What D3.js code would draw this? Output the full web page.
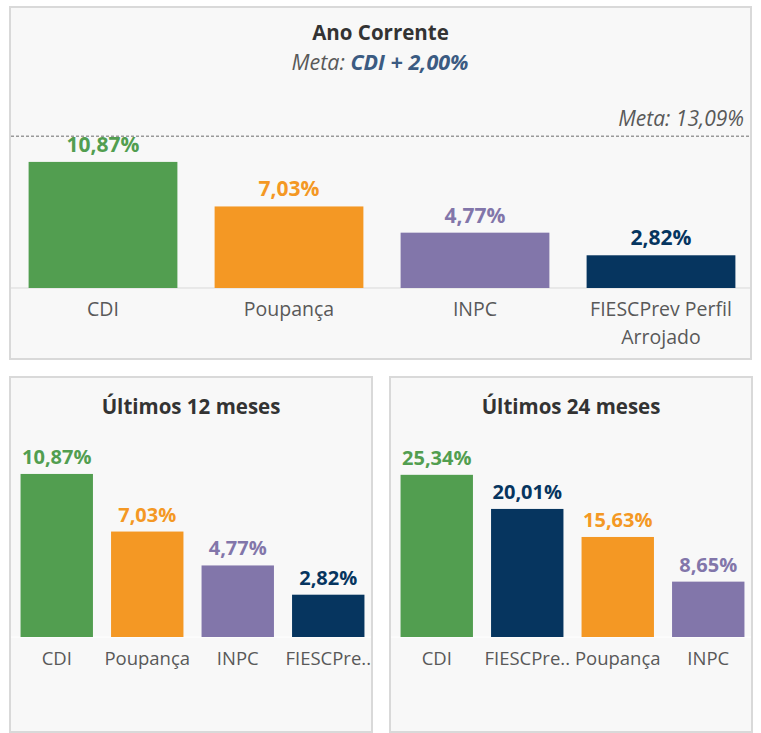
<!DOCTYPE html>
<html>
<head>
<meta charset="utf-8">
<script src="https://cdn.jsdelivr.net/npm/d3@7"></script>
<style>
  body { margin: 0; background: #fff; }
  text { font-family: "Open Sans", "Noto Sans", sans-serif; }
</style>
</head>
<body>
<div id="chart"></div>
<script>
// data
const anoCats = ["CDI", "Poupança", "INPC", "FIESCPrev Perfil Arrojado"];
const anoVals = [10.87, 7.03, 4.77, 2.82];
const anoMeta = 13.09;

const m12Cats = ["CDI", "Poupança", "INPC", "FIESCPrev Perfil Arrojado"];
const m12Vals = [10.87, 7.03, 4.77, 2.82];

const m24Cats = ["CDI", "FIESCPrev Perfil Arrojado", "Poupança", "INPC"];
const m24Vals = [25.34, 20.01, 15.63, 8.65];

const colors = {
  "CDI": "#529e50",
  "Poupança": "#f49824",
  "INPC": "#8276aa",
  "FIESCPrev Perfil Arrojado": "#06355f"
};

const width = 761, height = 733;
const fmt = v => v.toFixed(2).replace(".", ",") + "%";

const svg = d3.select("#chart")
  .append("svg")
  .attr("width", width)
  .attr("height", height);

function drawPanel(p) {
  const g = svg.append("g");
  g.append("rect")
    .attr("x", p.box[0]).attr("y", p.box[1])
    .attr("width", p.box[2]).attr("height", p.box[3])
    .attr("fill", "#f8f8f8")
    .attr("stroke", "#d9d9d9")
    .attr("stroke-width", 2);

  g.append("text")
    .attr("x", p.box[0] + p.box[2] / 2)
    .attr("y", p.titleY)
    .attr("text-anchor", "middle")
    .attr("font-size", 20.5)
    .attr("font-weight", "bold")
    .attr("fill", "#333")
    .text(p.title);

  let x = d3.scaleBand()
    .domain(p.cats)
    .range(p.xRange)
    .paddingInner(0.2)
    .paddingOuter(0.1);

  let y = d3.scaleLinear()
    .domain([0, p.yMax])
    .range([p.base, p.top]);

  // baseline
  g.append("line")
    .attr("x1", p.box[0] + 1).attr("x2", p.box[0] + p.box[2] - 1)
    .attr("y1", p.base).attr("y2", p.base)
    .attr("stroke", p.baseColor)
    .attr("stroke-width", 1);

  g.selectAll(".bar")
    .data(p.vals)
    .join("rect")
    .attr("x", (d, i) => x(p.cats[i]))
    .attr("width", x.bandwidth())
    .attr("y", d => y(d))
    .attr("height", d => y(0) - y(d))
    .attr("fill", (d, i) => colors[p.cats[i]]);

  g.selectAll(".val")
    .data(p.vals)
    .join("text")
    .attr("x", (d, i) => x(p.cats[i]) + x.bandwidth() / 2)
    .attr("y", d => y(d) - 10)
    .attr("text-anchor", "middle")
    .attr("font-size", p.valSize)
    .attr("font-weight", "bold")
    .attr("fill", (d, i) => colors[p.cats[i]])
    .text(fmt);

  // category labels
  p.cats.forEach((c, i) => {
    const lines = p.labels[i];
    lines.forEach((ln, j) => {
      g.append("text")
        .attr("x", x(c) + x.bandwidth() / 2)
        .attr("y", p.base + 28 + j * 28)
        .attr("text-anchor", "middle")
        .attr("font-size", p.catSize)
        .attr("fill", "#595959")
        .text(ln);
    });
  });
  return { g, x, y };
}

const topPanel = drawPanel({
  box: [10, 7, 741, 352],
  title: "Ano Corrente",
  titleY: 40,
  cats: anoCats,
  vals: anoVals,
  labels: [["CDI"], ["Poupança"], ["INPC"], ["FIESCPrev Perfil", "Arrojado"]],
  xRange: [10, 754],
  base: 288,
  top: 288 - 11.6 * 14,
  yMax: 14,
  baseColor: "#d9d9d9",
  valSize: 21,
  catSize: 19.5
});

// subtitle
const sub = topPanel.g.append("text")
  .attr("x", 380)
  .attr("y", 70)
  .attr("text-anchor", "middle")
  .attr("font-size", 21.5)
  .attr("font-style", "italic");
sub.append("tspan").attr("fill", "#595959").text("Meta: ");
sub.append("tspan").attr("fill", "#3b5b82").attr("font-weight", "bold").text("CDI + 2,00%");

// meta line
topPanel.g.append("line")
  .attr("x1", 11).attr("x2", 750)
  .attr("y1", topPanel.y(anoMeta)).attr("y2", topPanel.y(anoMeta))
  .attr("stroke", "#9a9a9a")
  .attr("stroke-width", 1.5)
  .attr("stroke-dasharray", "3,2");

topPanel.g.append("text")
  .attr("x", 744)
  .attr("y", topPanel.y(anoMeta) - 10)
  .attr("text-anchor", "end")
  .attr("font-size", 21)
  .attr("font-style", "italic")
  .attr("fill", "#595959")
  .text("Meta: " + fmt(anoMeta));

drawPanel({
  box: [10, 377, 362, 355],
  title: "Últimos 12 meses",
  titleY: 414,
  cats: m12Cats,
  vals: m12Vals,
  labels: [["CDI"], ["Poupança"], ["INPC"], ["FIESCPre.."]],
  xRange: [11.5, 373.5],
  base: 637,
  top: 637 - 15 * 11,
  yMax: 11,
  baseColor: "#ffffff",
  valSize: 20,
  catSize: 18.5
});

drawPanel({
  box: [390, 377, 362, 355],
  title: "Últimos 24 meses",
  titleY: 414,
  cats: m24Cats,
  vals: m24Vals,
  labels: [["CDI"], ["FIESCPre.."], ["Poupança"], ["INPC"]],
  xRange: [391.5, 753.5],
  base: 637,
  top: 637 - 6.4 * 26,
  yMax: 26,
  baseColor: "#ffffff",
  valSize: 20,
  catSize: 18.5
});
</script>
</body>
</html>
